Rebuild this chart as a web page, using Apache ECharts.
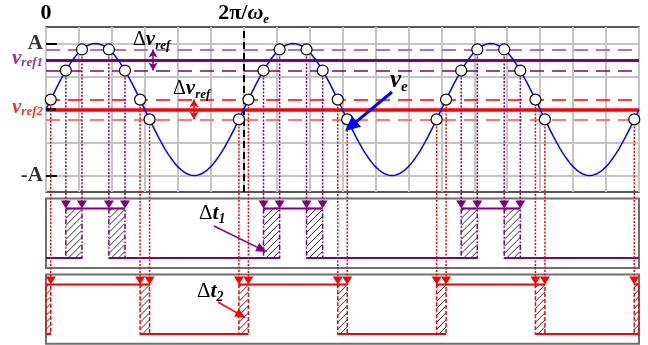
<!DOCTYPE html>
<html>
<head>
<meta charset="utf-8">
<script src="https://cdn.jsdelivr.net/npm/echarts@6/dist/echarts.min.js"></script>
<style>
  html, body { margin: 0; padding: 0; background: #fff; }
  #chart { width: 648px; height: 345px; }
</style>
</head>
<body>
<div id="chart"></div>
<script>
// ---- Signal parameters (amplitude normalised to A = 1, time measured in grid cells) ----
const periodCells = 6;            // one electrical period 2π/ωe spans 6 grid cells
const periods = 3;                // periods shown
const amplitude = 1;              // A
const vref1 = 0.75, dvref1 = 0.16;
const vref2 = 0.0,  dvref2 = 0.15;
const sampleStep = 0.05;          // sampling step of ve along time

// y-axis level labels
const levelNames = ['A', 'vref1', 'vref2', '-A'];
const levelValues = [amplitude, vref1, vref2, -amplitude];
// top axis tick labels
const topTickValues = [0, 6];
const topTickNames = ['0', '2π/ωe'];
// horizontal grid values in the ve panel
const hGridValues = [1, 0.5, 0, -0.5, -1];

// ---- Styling ----
const PURPLE = '#800080', PURPLE_LIGHT = '#b070c0';
const RED = '#ff0000', RED_LIGHT = '#ff7878';
const BLUE = '#0000ff';
const SERIF = '"Liberation Serif", "Times New Roman", serif';

// vertical placement of the two comparator panels (in the units of the shared y axis)
const panels = [
  { top: -1.35, bottom: -2.4,  hi: -1.5,  lo: -2.25, color: PURPLE, dash: [5, 2, 1.5, 2] },
  { top: -2.5,  bottom: -3.55, hi: -2.65, lo: -3.4,  color: RED,    dash: [4, 2] }
];

const xMax = periodCells * periods;
const half = periodCells / 2;

// ---- ve = A sin(ωe t) ----
const veData = [];
for (let i = 0; i <= Math.round(xMax / sampleStep); i++) {
  const t = i * sampleStep;
  veData.push([t, amplitude * Math.sin(2 * Math.PI * t / periodCells)]);
}

// time at which ve rises through a given level within one period
function riseTime(level) {
  return Math.asin(level / amplitude) / (2 * Math.PI) * periodCells;
}

const band1 = [vref1 - dvref1, vref1 + dvref1];
const band2 = [vref2 - dvref2, vref2 + dvref2];

// crossing points of ve with the band edges: [t, level, panel]
const crossings = [];
for (let k = 0; k <= periods; k++) {
  const b = k * periodCells;
  [
    [b + riseTime(band2[0]), band2[0], 1], [b + riseTime(band2[1]), band2[1], 1],
    [b + riseTime(band1[0]), band1[0], 0], [b + riseTime(band1[1]), band1[1], 0],
    [b + half - riseTime(band1[1]), band1[1], 0], [b + half - riseTime(band1[0]), band1[0], 0],
    [b + half - riseTime(band2[1]), band2[1], 1], [b + half - riseTime(band2[0]), band2[0], 1]
  ].forEach(c => { if (c[0] >= 0 && c[0] <= xMax) crossings.push(c); });
}

// uncertainty zones (hatched) and comparator output segments for each panel
const zones = [];     // [t0, t1, panel]
const segments = [];  // [t0, t1, panel, high]
function clipPush(arr, t0, t1, rest) {
  const a = Math.max(0, t0), b = Math.min(xMax, t1);
  if (b > a) arr.push([a, b].concat(rest));
}
[band1, band2].forEach((band, p) => {
  const rA = riseTime(band[0]), rB = riseTime(band[1]);
  let prevFallStart = -Infinity;
  for (let k = 0; k <= periods; k++) {
    const b = k * periodCells;
    const rise = [b + rA, b + rB];
    const fall = [b + half - rB, b + half - rA];
    clipPush(zones, rise[0], rise[1], [p]);
    clipPush(zones, fall[0], fall[1], [p]);
    clipPush(segments, prevFallStart, rise[1], [p, 0]);
    clipPush(segments, rise[0], fall[1], [p, 1]);
    prevFallStart = fall[0];
  }
});

// ---- Chart ----
const chart = echarts.init(document.getElementById('chart'), null, { renderer: 'canvas' });

const markLineBase = { silent: true, symbol: ['none', 'none'], label: { show: false }, animation: false };

function richSub(color, big, small) {
  return {
    v: { fontFamily: SERIF, fontWeight: 'bold', fontStyle: 'italic', fontSize: big, color: color, lineHeight: big, verticalAlign: 'bottom' },
    s: { fontFamily: SERIF, fontWeight: 'bold', fontStyle: 'italic', fontSize: small, color: color, lineHeight: small, verticalAlign: 'bottom', padding: [0, 0, -2, 0] },
    d: { fontFamily: SERIF, fontWeight: 'normal', fontSize: big - 1, color: color, lineHeight: big, verticalAlign: 'bottom' },
    n: { fontFamily: SERIF, fontWeight: 'bold', fontSize: big, color: color, lineHeight: big, verticalAlign: 'bottom' }
  };
}

const option = {
  animation: false,
  backgroundColor: '#fff',
  grid: [
    { left: 46, top: 27, width: 593, height: 165, show: true, borderColor: '#222', borderWidth: 1.5, backgroundColor: 'transparent' },
    { left: 46, top: 27, width: 593, height: 316.8, show: false }
  ],
  xAxis: [
    {
      gridIndex: 0, type: 'value', min: 0, max: xMax, interval: 1, position: 'top',
      axisLine: { show: false }, axisTick: { show: false },
      axisLabel: {
        show: true, margin: 3, showMinLabel: true, showMaxLabel: false,
        formatter: v => {
          const i = topTickValues.indexOf(v);
          if (i < 0) return '';
          return topTickNames[i] === '0' ? '{n|0}' : '{n|2π/}{w|ω}{s|e}';
        },
        rich: Object.assign(richSub('#000', 22, 13), {
          w: { fontFamily: SERIF, fontWeight: 'bold', fontStyle: 'italic', fontSize: 22, color: '#000', lineHeight: 22, verticalAlign: 'bottom' }
        })
      },
      splitLine: { show: true, lineStyle: { color: '#c4c4c4', width: 2 } }
    },
    { gridIndex: 1, type: 'value', min: 0, max: xMax, show: false }
  ],
  yAxis: [
    { gridIndex: 0, type: 'value', min: -1.25, max: 1.25, show: false, splitLine: { show: false } },
    { gridIndex: 1, type: 'value', min: -3.55, max: 1.25, show: false, splitLine: { show: false } }
  ],
  series: [
    // horizontal grid of the ve panel
    {
      type: 'line', xAxisIndex: 0, yAxisIndex: 0, data: [], z: 1,
      markLine: Object.assign({}, markLineBase, {
        lineStyle: { color: '#c4c4c4', width: 2, type: 'solid' },
        data: hGridValues.map(v => ({ yAxis: v }))
      })
    },
    // reference levels and their hysteresis bands
    {
      type: 'line', xAxisIndex: 0, yAxisIndex: 0, data: [], z: 3,
      markLine: Object.assign({}, markLineBase, {
        data: [
          { yAxis: band1[1], lineStyle: { color: PURPLE_LIGHT, width: 2, type: [14, 8] } },
          { yAxis: vref1,    lineStyle: { color: PURPLE, width: 3, type: 'solid' } },
          { yAxis: band1[0], lineStyle: { color: PURPLE, width: 1.5, type: [14, 8] } },
          { yAxis: band2[1], lineStyle: { color: RED, width: 1.5, type: [14, 8] } },
          { yAxis: vref2,    lineStyle: { color: RED, width: 3.5, type: 'solid' } },
          { yAxis: band2[0], lineStyle: { color: RED_LIGHT, width: 2, type: [14, 8] } },
          { xAxis: periodCells, lineStyle: { color: '#000', width: 2, type: [7, 4] } }
        ]
      })
    },
    // level ticks at the left edge and the Δvref double arrows
    {
      type: 'line', xAxisIndex: 0, yAxisIndex: 0, data: [], z: 6,
      markLine: {
        silent: true, animation: false, label: { show: false },
        data: [
          [{ coord: [0, amplitude], symbol: 'none', lineStyle: { color: '#000', width: 2, type: 'solid' } }, { coord: [0.33, amplitude], symbol: 'none' }],
          [{ coord: [0, vref2], symbol: 'none', lineStyle: { color: '#000', width: 2.5, type: 'solid' } }, { coord: [0.3, vref2], symbol: 'none' }],
          [{ coord: [0, -amplitude], symbol: 'none', lineStyle: { color: '#000', width: 2, type: 'solid' } }, { coord: [0.33, -amplitude], symbol: 'none' }],
          [{ coord: [3.25, band1[1]], symbol: 'arrow', symbolSize: [7, 8], lineStyle: { color: PURPLE, width: 1.5, type: 'solid' } }, { coord: [3.25, band1[0]], symbol: 'arrow', symbolSize: [7, 8] }],
          [{ coord: [4.49, band2[1]], symbol: 'arrow', symbolSize: [7, 8], lineStyle: { color: RED, width: 1.5, type: 'solid' } }, { coord: [4.49, band2[0]], symbol: 'arrow', symbolSize: [7, 8] }]
        ]
      }
    },
    // level labels on the left
    {
      type: 'scatter', xAxisIndex: 0, yAxisIndex: 0, silent: true, symbolSize: 0, z: 7,
      data: levelValues.map((v, i) => ({ value: [0, v], name: levelNames[i] })),
      label: {
        show: true, position: 'left', distance: 3,
        formatter: p => {
          if (p.name === 'A') return '{n|A}';
          if (p.name === '-A') return '{n|-A}';
          return p.name === 'vref1' ? '{pv|v}{ps|ref1}' : '{rv|v}{rs|ref2}';
        },
        rich: {
          n: { fontFamily: SERIF, fontWeight: 'bold', fontSize: 21, color: '#000', lineHeight: 20 },
          pv: { fontFamily: SERIF, fontWeight: 'bold', fontStyle: 'italic', fontSize: 21, color: PURPLE, lineHeight: 18, verticalAlign: 'bottom' },
          ps: { fontFamily: SERIF, fontWeight: 'bold', fontStyle: 'italic', fontSize: 13, color: PURPLE, lineHeight: 14, verticalAlign: 'bottom' },
          rv: { fontFamily: SERIF, fontWeight: 'bold', fontStyle: 'italic', fontSize: 21, color: RED, lineHeight: 18, verticalAlign: 'bottom' },
          rs: { fontFamily: SERIF, fontWeight: 'bold', fontStyle: 'italic', fontSize: 13, color: RED, lineHeight: 14, verticalAlign: 'bottom' }
        }
      }
    },
    // comparator panel frames
    {
      type: 'custom', xAxisIndex: 1, yAxisIndex: 1, silent: true, z: 2,
      data: panels.map((p, i) => [i]),
      renderItem: (params, api) => {
        const P = panels[api.value(0)];
        const a = api.coord([0, P.top]), b = api.coord([xMax, P.bottom]);
        return { type: 'rect', shape: { x: a[0], y: a[1], width: b[0] - a[0], height: b[1] - a[1] },
                 style: { fill: 'none', stroke: '#6e6e6e', lineWidth: 2 } };
      }
    },
    // hatched uncertainty zones
    {
      type: 'custom', xAxisIndex: 1, yAxisIndex: 1, silent: true, z: 3,
      data: zones,
      renderItem: (params, api) => {
        const P = panels[api.value(2)];
        const a = api.coord([api.value(0), P.hi]), b = api.coord([api.value(1), P.lo]);
        const x0 = a[0], y0 = a[1], x1 = b[0], y1 = b[1];
        const children = [];
        for (let c = x0 + y0 + 3; c < x1 + y1; c += 7) {
          const ys = Math.max(y0, c - x1), ye = Math.min(y1, c - x0);
          if (ye > ys) children.push({ type: 'line', shape: { x1: c - ys, y1: ys, x2: c - ye, y2: ye },
                                       style: { stroke: '#333', lineWidth: 1 } });
        }
        children.push({ type: 'rect', shape: { x: x0, y: y0, width: x1 - x0, height: y1 - y0 },
                        style: { fill: 'none', stroke: P.color, lineWidth: 1.5, lineDash: P.dash } });
        return { type: 'group', children };
      }
    },
    // comparator outputs
    {
      type: 'custom', xAxisIndex: 1, yAxisIndex: 1, silent: true, z: 4,
      data: segments,
      renderItem: (params, api) => {
        const P = panels[api.value(2)];
        const y = api.value(3) ? P.hi : P.lo;
        const a = api.coord([api.value(0), y]), b = api.coord([api.value(1), y]);
        return { type: 'line', shape: { x1: a[0], y1: a[1], x2: b[0], y2: b[1] },
                 style: { stroke: P.color, lineWidth: 2 } };
      }
    },
    // projections of the crossings down to the comparator panels
    {
      type: 'custom', xAxisIndex: 1, yAxisIndex: 1, silent: true, z: 5,
      data: crossings,
      renderItem: (params, api) => {
        const P = panels[api.value(2)];
        const a = api.coord([api.value(0), api.value(1)]);
        const b = api.coord([api.value(0), P.hi]);
        const aw = 5, ah = 8;
        return { type: 'group', children: [
          { type: 'line', shape: { x1: a[0], y1: a[1], x2: b[0], y2: b[1] - ah + 1 },
            style: { stroke: P.color, lineWidth: 1.5, lineDash: [2, 1.5] } },
          { type: 'polygon', shape: { points: [[b[0] - aw, b[1] - ah], [b[0] + aw, b[1] - ah], [b[0], b[1]]] },
            style: { fill: P.color } }
        ] };
      }
    },
    // ve
    {
      type: 'line', xAxisIndex: 1, yAxisIndex: 1, data: veData, z: 8,
      showSymbol: false, silent: true, smooth: false,
      lineStyle: { color: BLUE, width: 1.5 }
    },
    // crossing markers
    {
      type: 'scatter', xAxisIndex: 1, yAxisIndex: 1, z: 9, silent: true,
      data: crossings.map(c => [c[0], c[1]]),
      symbol: 'circle', symbolSize: 11,
      itemStyle: { color: '#fff', borderColor: '#000', borderWidth: 1.2, opacity: 1 }
    }
  ]
};

function arrowShape(x1, y1, x2, y2, color, w, hl, hw) {
  const dx = x2 - x1, dy = y2 - y1, L = Math.hypot(dx, dy), ux = dx / L, uy = dy / L;
  const bx = x2 - ux * hl, by = y2 - uy * hl;
  return [
    { type: 'line', shape: { x1, y1, x2: bx + ux, y2: by + uy }, style: { stroke: color, lineWidth: w }, z: 100 },
    { type: 'polygon', shape: { points: [[x2, y2], [bx - uy * hw, by + ux * hw], [bx + uy * hw, by - ux * hw]] }, style: { fill: color }, z: 100 }
  ];
}

function label(x, y, text, color, big, small) {
  return { type: 'text', x, y, z: 100, silent: true,
           style: { text, align: 'left', verticalAlign: 'top', rich: richSub(color, big, small) } };
}

option.graphic = [
  label(133, 29, '{d|Δ}{v|v}{s|ref}', PURPLE, 21, 13),
  label(173, 78, '{d|Δ}{v|v}{s|ref}', RED, 21, 13),
  label(390, 68, '{v|v}{s|e}', BLUE, 25, 15),
  label(199, 202, '{d|Δ}{v|t}{s|1}', PURPLE, 22, 14),
  label(197, 280, '{d|Δ}{v|t}{s|2}', RED, 22, 14)
].concat(
  arrowShape(392, 92, 345, 131, BLUE, 3, 15, 7),
  arrowShape(214, 226, 267, 252, PURPLE, 1.5, 11, 4.5),
  arrowShape(218, 302, 246, 318, RED, 1.5, 11, 4.5)
);

chart.setOption(option);
</script>
</body>
</html>
